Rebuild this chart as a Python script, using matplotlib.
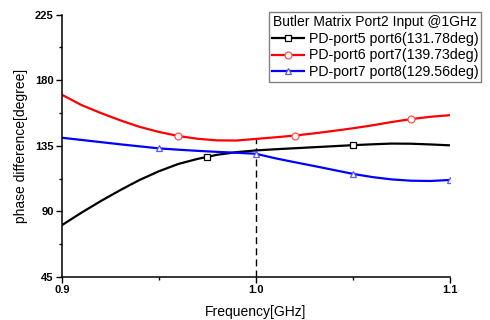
import matplotlib
matplotlib.use("Agg")
import matplotlib.pyplot as plt
from matplotlib.lines import Line2D
from matplotlib.ticker import MultipleLocator

plt.rcParams['font.family'] = ['Liberation Sans', 'DejaVu Sans']

# frequency grid [GHz]
freq = [0.90, 0.91, 0.92, 0.93, 0.94, 0.95, 0.96, 0.97, 0.98, 0.99, 1.00,
        1.01, 1.02, 1.03, 1.04, 1.05, 1.06, 1.07, 1.08, 1.09, 1.10]

# phase differences [degree]
pd56 = [80.5, 89.0, 97.0, 104.5, 111.5, 117.5, 122.5, 126.0, 128.8, 130.6, 131.8,
        132.6, 133.3, 134.0, 134.7, 135.4, 136.0, 136.5, 136.4, 135.9, 135.3]
pd67 = [170.0, 163.0, 157.5, 152.5, 148.0, 144.5, 141.7, 139.8, 138.7, 138.6, 139.7,
        140.8, 142.0, 143.5, 145.2, 147.0, 149.0, 151.3, 153.3, 154.9, 156.0]
pd78 = [140.5, 139.0, 137.5, 136.0, 134.6, 133.2, 132.3, 131.5, 130.8, 130.2, 129.5,
        126.4, 123.7, 121.1, 118.4, 115.7, 113.5, 111.9, 111.0, 110.8, 111.5]

# marker positions
mk56_f = [0.975, 1.05]
mk56_v = [127.0, 135.4]
mk67_f = [0.96, 1.02, 1.08]
mk67_v = [141.7, 142.0, 153.3]
mk78_f = [0.95, 1.00, 1.05, 1.10]
mk78_v = [133.2, 129.5, 115.7, 111.5]

labels = ["PD-port5 port6(131.78deg)",
          "PD-port6 port7(139.73deg)",
          "PD-port7 port8(129.56deg)"]

fig = plt.figure(figsize=(4.9, 3.2), dpi=100)
ax = fig.add_axes([0.1265, 0.135, 0.918 - 0.1265, 0.954 - 0.135])

series = [
    (pd56, mk56_f, mk56_v, 'black', 'black', 's'),
    (pd67, mk67_f, mk67_v, '#ff0000', '#ff5050', 'o'),
    (pd78, mk78_f, mk78_v, '#0000ff', '#5a5aff', '^'),
]
handles = []
for (vals, mf, mv, col, mcol, mk), lab in zip(series, labels):
    ax.plot(freq, vals, color=col, lw=1.6, zorder=2)
    ax.plot(mf, mv, ls='none', marker=mk, ms=5, mfc='white', mec=mcol,
            mew=0.9, zorder=3)
    handles.append(Line2D([], [], color=col, lw=1.6, marker=mk, ms=5,
                          mfc='white', mec=mcol, mew=0.9, label=lab))

ax.vlines(1.0, 45, 139.7, colors='black', linestyles=(0, (5, 3)), lw=1, zorder=1)

ax.set_xlim(0.9, 1.1)
ax.set_ylim(45, 225)
ax.set_xticks([0.9, 1.0, 1.1])
ax.set_xticklabels(['0.9', '1.0', '1.1'])
ax.xaxis.set_minor_locator(MultipleLocator(0.05))
ax.set_yticks([45, 90, 135, 180, 225])
ax.yaxis.set_minor_locator(MultipleLocator(22.5))
ax.tick_params(which='major', direction='out', length=4, width=1, pad=2)
ax.tick_params(which='minor', direction='out', length=2.5, width=1)
for t in ax.get_xticklabels() + ax.get_yticklabels():
    t.set_fontweight('bold')
    t.set_fontsize(8)

for s in ['top', 'right']:
    ax.spines[s].set_visible(False)
for s in ['left', 'bottom']:
    ax.spines[s].set_linewidth(1.1)

ax.set_xlabel('Frequency[GHz]', fontsize=10, labelpad=7)
ax.set_ylabel('phase difference[degree]', fontsize=10, labelpad=5)

leg = ax.legend(handles=handles, title='Butler Matrix Port2 Input @1GHz',
                loc='upper right', bbox_to_anchor=(481 / 490, 1 - 12 / 320),
                bbox_transform=fig.transFigure, fontsize=10.2,
                title_fontsize=10, fancybox=False, framealpha=1,
                edgecolor='#808080', handlelength=2.3, labelspacing=0.2,
                borderpad=0.2, handletextpad=0.3, borderaxespad=0)
leg.get_frame().set_linewidth(1.0)

fig.savefig('out.png', dpi=100)
